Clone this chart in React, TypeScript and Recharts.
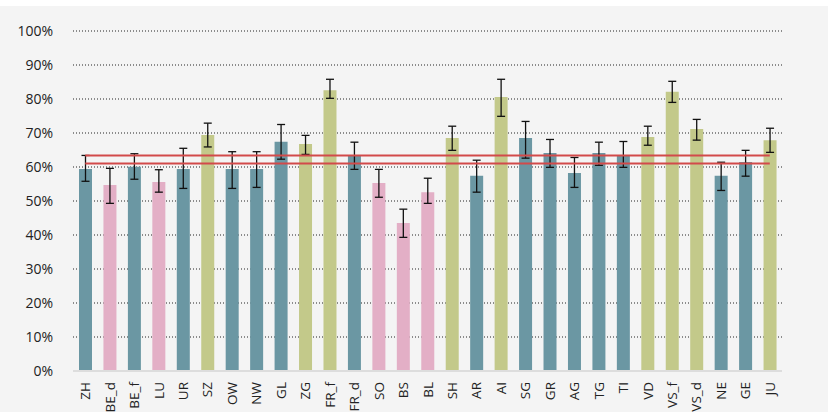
import React from 'react'
import {
  BarChart,
  Bar,
  Cell,
  XAxis,
  YAxis,
  CartesianGrid,
  ErrorBar,
  ReferenceLine,
} from 'recharts'

const CANTONS = [
  'ZH', 'BE_d', 'BE_f', 'LU', 'UR', 'SZ', 'OW', 'NW', 'GL', 'ZG', 'FR_f', 'FR_d', 'SO', 'BS', 'BL',
  'SH', 'AR', 'AI', 'SG', 'GR', 'AG', 'TG', 'TI', 'VD', 'VS_f', 'VS_d', 'NE', 'GE', 'JU',
]
const VALUES = [
  59.4, 54.7, 60.1, 55.6, 59.4, 69.4, 59.4, 59.4, 67.4, 66.8, 82.6, 63.5, 55.3, 43.5, 52.6,
  68.5, 57.4, 80.6, 68.5, 64.1, 58.2, 64.1, 63.4, 68.8, 82.1, 71.2, 57.4, 61.5, 67.9,
]
const ERR_LOW = [
  55.8, 49.3, 56.4, 52.6, 53.7, 65.9, 53.7, 54.0, 62.3, 63.7, 80.2, 59.3, 51.1, 39.3, 49.3,
  64.9, 52.6, 74.9, 62.6, 59.9, 54.0, 60.5, 59.9, 66.4, 79.0, 67.9, 53.1, 57.3, 64.3,
]
const ERR_HIGH = [
  63.4, 59.6, 63.9, 59.2, 65.5, 72.9, 64.5, 64.5, 72.5, 69.3, 85.8, 67.3, 59.3, 47.6, 56.7,
  72.0, 62.0, 85.8, 73.4, 68.1, 62.8, 67.3, 67.5, 72.0, 85.2, 74.0, 61.4, 64.9, 71.4,
]
// 0 = teal, 1 = pink, 2 = olive
const GROUP = [
  0, 1, 0, 1, 0, 2, 0, 0, 0, 2, 2, 0, 1, 1, 1,
  2, 0, 2, 0, 0, 0, 0, 0, 2, 2, 2, 0, 0, 2,
]
const REF_LINES = [63.4, 61.0]
const Y_TICKS = [0, 10, 20, 30, 40, 50, 60, 70, 80, 90, 100]

const COLORS = ['#6b97a3', '#e3afc6', '#c3c98a']
const FONT = '"Open Sans", sans-serif'

const data = CANTONS.map((name, i) => ({
  name,
  value: VALUES[i],
  err: [VALUES[i] - ERR_LOW[i], ERR_HIGH[i] - VALUES[i]],
}))

const XTick = ({ x, y, payload }: any) => (
  <text
    x={x}
    y={y}
    transform={`rotate(-90, ${x}, ${y})`}
    dx={-3}
    dy={5}
    textAnchor='end'
    fontSize={13.5}
    fill='#222'
    fontFamily={FONT}
  >
    {payload.value}
  </text>
)

export default function App() {
  return (
    <div style={{ position: 'absolute', left: 0, top: 0, width: 833, height: 412, background: '#fff' }}>
      <div style={{ position: 'absolute', left: 0, top: 6, width: 828, height: 406, background: '#f4f4f4' }}>
        <BarChart
          width={828}
          height={406}
          data={data}
          margin={{ top: 25, right: 46, left: 0, bottom: 0 }}
        >
          <CartesianGrid
            vertical={false}
            stroke='#222'
            strokeDasharray='1 2'
          />
          <XAxis
            dataKey='name'
            interval={0}
            height={41}
            tickLine={false}
            axisLine={{ stroke: '#ddd', strokeWidth: 2 }}
            tick={<XTick />}
          />
          <YAxis
            domain={[0, 100]}
            ticks={Y_TICKS}
            width={73}
            axisLine={false}
            tickLine={false}
            tickFormatter={(v) => `${v}%`}
            tick={{ fontSize: 14, fill: '#222', fontFamily: FONT, dx: -12 }}
          />
          <Bar dataKey='value' barSize={13} isAnimationActive={false}>
            {data.map((entry, index) => (
              <Cell key={`cell-${index}`} fill={COLORS[GROUP[index]]} />
            ))}
            <ErrorBar dataKey='err' width={4} stroke='#111' strokeWidth={1.3} />
          </Bar>
          {REF_LINES.map((v, i) => (
            <ReferenceLine
              key={i}
              segment={[
                { x: CANTONS[0], y: v },
                { x: CANTONS[CANTONS.length - 1], y: v },
              ]}
              stroke='#d24a4a'
              strokeWidth={2}
            />
          ))}
        </BarChart>
      </div>
    </div>
  )
}
